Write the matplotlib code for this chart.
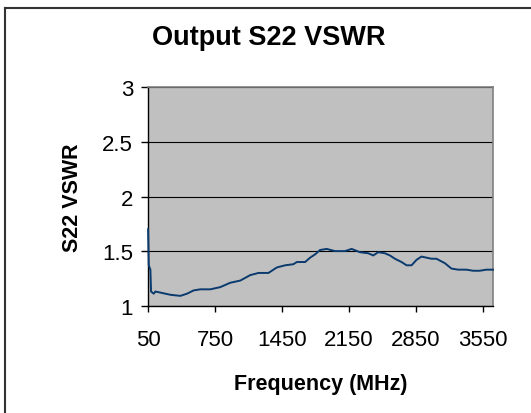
import matplotlib
matplotlib.use("Agg")
import matplotlib.pyplot as plt
from matplotlib.lines import Line2D

freq_mhz = [50, 57, 74, 81, 109, 126, 179, 283, 387, 457, 526, 596, 700, 804, 908,
            1013, 1117, 1204, 1308, 1395, 1482, 1569, 1604, 1691, 1743, 1795, 1847,
            1916, 2003, 2108, 2177, 2264, 2351, 2403, 2455, 2525, 2577, 2629, 2698,
            2751, 2803, 2855, 2907, 2959, 3011, 3063, 3150, 3220, 3289, 3376, 3446,
            3515, 3585, 3654]
vswr = [1.70, 1.37, 1.33, 1.13, 1.11, 1.13, 1.12, 1.10, 1.09, 1.11, 1.14, 1.15, 1.15,
        1.17, 1.21, 1.23, 1.28, 1.30, 1.30, 1.35, 1.37, 1.38, 1.40, 1.40, 1.44, 1.47,
        1.51, 1.52, 1.50, 1.50, 1.52, 1.49, 1.48, 1.46, 1.49, 1.48, 1.46, 1.43, 1.40,
        1.37, 1.37, 1.42, 1.45, 1.44, 1.43, 1.43, 1.39, 1.34, 1.33, 1.33, 1.32, 1.32,
        1.33, 1.33]
x_ticks = [50, 750, 1450, 2150, 2850, 3550]
y_ticks = [1, 1.5, 2, 2.5, 3]

plt.rcParams['font.family'] = ['Liberation Sans', 'DejaVu Sans']

fig = plt.figure(figsize=(5.31, 4.14), dpi=100)
ax = fig.add_axes([147.7 / 531, 1 - 306.7 / 414, (493 - 147.7) / 531, (306.7 - 88.3) / 414])
ax.set_facecolor('#c0c0c0')
ax.plot(freq_mhz, vswr, color='#0a3a6e', lw=1.4, zorder=4, clip_on=False)
ax.set_xlim(46, 3654)
ax.set_ylim(1, 3)
ax.set_xticks(x_ticks)
ax.set_yticks(y_ticks)
ax.set_yticklabels(['1', '1.5', '2', '2.5', '3'])
ax.tick_params(labelsize=16, direction='out', width=1)
ax.tick_params(axis='x', length=4.5, pad=12)
ax.tick_params(axis='y', length=5, pad=5.5)
ax.grid(axis='y', color='black', lw=0.8)
ax.set_axisbelow(True)
for s in ['top', 'right']:
    ax.spines[s].set_color('#808080')
    ax.spines[s].set_linewidth(1.2)
ax.spines['left'].set_linewidth(1)
ax.spines['bottom'].set_linewidth(1)

ax.set_xlabel('Frequency (MHz)', fontsize=15.5, fontweight='bold', labelpad=17)
ax.set_ylabel('S22 VSWR', fontsize=15.5, fontweight='bold', labelpad=14)
fig.text(269 / 531, 1 - 38 / 414, 'Output S22 VSWR', fontsize=19.5, fontweight='bold',
         ha='center', va='center')

fig.add_artist(Line2D([5 / 531, 5 / 531], [0, 1 - 8.5 / 414], color='#333333', lw=1.5))
fig.add_artist(Line2D([5 / 531, 1], [1 - 8.5 / 414, 1 - 8.5 / 414], color='#333333', lw=1.5))

fig.savefig('out.png', dpi=100)
